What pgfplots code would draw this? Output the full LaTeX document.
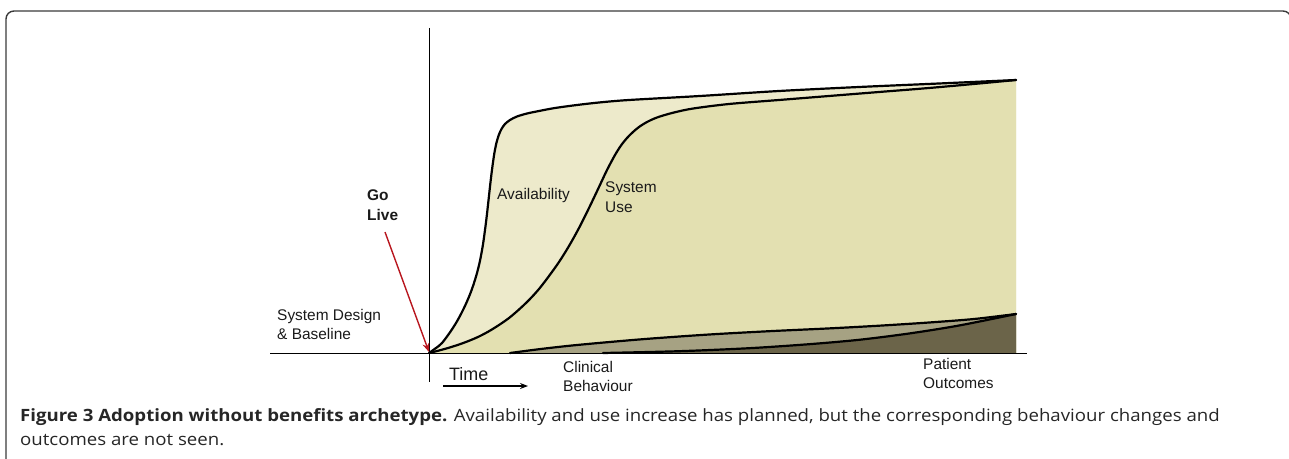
\documentclass[border=0pt]{standalone}
\usepackage{pgfplots}
\pgfplotsset{compat=1.18}
\usepackage{pgfplotstable}
\usetikzlibrary{arrows.meta}
\usepackage{fontspec}
\setmainfont{Liberation Sans}
\newfontfamily\capfont{Open Sans}

\definecolor{availfill}{HTML}{EDEACB}
\definecolor{sysfill}{HTML}{E3E0B1}
\definecolor{clinfill}{HTML}{A6A283}
\definecolor{patfill}{HTML}{6B6449}
\definecolor{golive}{HTML}{B8161E}
\definecolor{boxgray}{HTML}{3A3A3A}
\definecolor{capgray}{HTML}{262626}
\definecolor{labgray}{HTML}{1A1A1A}

% Availability curve
\pgfplotstableread{
x y
0 0
7 5
13 10
20.5 20
27 30
32.5 40
37.3 50
41.5 60
45 70
48 80
50.5 90
52.5 100
54.2 110
55.6 120
56.9 130
58.1 140
59.2 150
60.3 160
61.4 170
62.6 180
63.9 190
65.4 200
67.4 210
69.8 218
72.5 224
76 229
81 233
88 236.5
98 239.5
110 242
126 245
148 248
170 250.5
200 253
271 257
350 262
430 266
510 269.5
587 273
}\avail

% System use curve
\pgfplotstableread{
x y
0 0
10 2.5
20 5.3
30 8.5
40 12.2
50 16.5
60 21.8
70 28
80 35
90 43.5
100 53
110 64
120 77
130 91
140 107
150 125
160 145
170 166
178 183
186 198
192 207.5
198 215
204 221
210 226
218 231
228 235.5
243 240
263 244.3
300 249
350 253
400 257
450 261
500 265
550 269.5
587 273
}\sysuse

% Clinical behaviour curve
\pgfplotstableread{
x y
81 0
110 3.8
140 7.2
175 10.5
220 14.3
280 18.5
340 21.8
400 24.6
450 27.3
500 30.5
545 34
587 39
}\clinical

% Patient outcomes curve
\pgfplotstableread{
x y
174 0
250 1.8
320 4.8
380 8.8
430 13.2
480 19.5
530 27.5
587 39
}\patient

\begin{document}
\begin{tikzpicture}
\begin{axis}[
  scale only axis,
  width=1289bp, height=458bp,
  xmin=-429, xmax=860, ymin=-105, ymax=353,
  axis lines=none,
  clip=false,
]
% border box
\draw[boxgray, line width=1.4bp, rounded corners=8bp]
  (axis cs:-423,-140) -- (axis cs:-423,342) -- (axis cs:862,342) -- (axis cs:862,-140);

% fills
\addplot[draw=none, fill=availfill, smooth, tension=0.5] table {\avail} \closedcycle;
\addplot[draw=none, fill=sysfill, smooth, tension=0.5] table {\sysuse} \closedcycle;
\addplot[draw=none, fill=clinfill, smooth, tension=0.5] table {\clinical} \closedcycle;
\addplot[draw=none, fill=patfill, smooth, tension=0.5] table {\patient} \closedcycle;

% curves
\addplot[black, line width=2.2bp, smooth, tension=0.5, line cap=round] table {\avail};
\addplot[black, line width=2.2bp, smooth, tension=0.5, line cap=round] table {\sysuse};
\addplot[black, line width=2.2bp, smooth, tension=0.5, line cap=round] table {\clinical};
\addplot[black, line width=2.2bp, smooth, tension=0.5, line cap=round] table {\patient};

% axes
\addplot[black, line width=1bp] coordinates {(-159,0) (598,0)};
\addplot[black, line width=1bp] coordinates {(0,325) (0,-29)};

% go live arrow
\draw[golive, line width=1.4bp, -{Stealth[length=9bp, width=7bp]}] (axis cs:-44,121) -- (axis cs:0,1);
% time arrow
\draw[black, line width=1.1bp, -{Stealth[length=8bp, width=6bp]}] (axis cs:14,-33) -- (axis cs:99,-33);

% labels
\begin{scope}[every node/.style={inner sep=0pt, anchor=base west, text=labgray, font=\fontsize{15.5}{19}\selectfont}]
\node at (axis cs:-152,33) {System Design};
\node at (axis cs:-152,14) {\& Baseline};
\node[font=\bfseries\fontsize{15.5}{19}\selectfont] at (axis cs:-62,153) {Go};
\node[font=\bfseries\fontsize{15.5}{19}\selectfont] at (axis cs:-62,133) {Live};
\node at (axis cs:68,154) {Availability};
\node at (axis cs:176,161) {System};
\node at (axis cs:176,141) {Use};
\node[font=\fontsize{18}{22}\selectfont] at (axis cs:20,-27) {Time};
\node at (axis cs:134,-19) {Clinical};
\node at (axis cs:134,-38) {Behaviour};
\node at (axis cs:494,-16) {Patient};
\node at (axis cs:494,-35) {Outcomes};
\end{scope}

% caption
\begin{scope}[every node/.style={inner sep=0pt, anchor=base west, text=capgray, font=\capfont\fontsize{17}{21}\selectfont}]
\node at (axis cs:-409,-68) {\scalebox{1.1}[1]{\textbf{Figure 3 Adoption without benefits archetype.} Availability and use increase has planned, but the corresponding behaviour changes and}};
\node at (axis cs:-409,-92) {\scalebox{1.1}[1]{outcomes are not seen.}};
\end{scope}
\end{axis}
\pgfresetboundingbox
\path (current axis.south west) rectangle (current axis.north east);
\end{tikzpicture}
\end{document}
